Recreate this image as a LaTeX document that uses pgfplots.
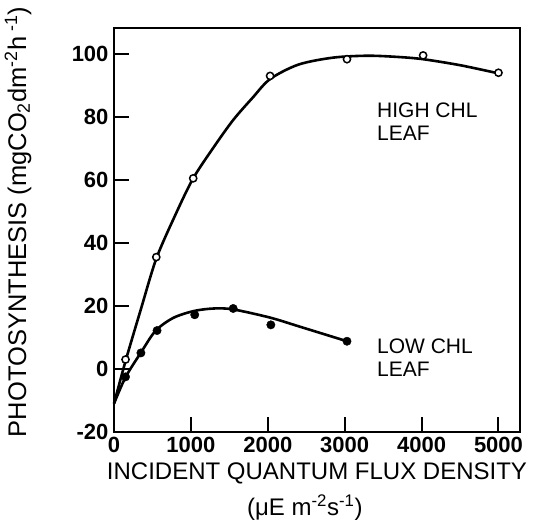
\documentclass[border=0pt]{standalone}
\usepackage{fontspec}
\setmainfont{Liberation Sans}
\usepackage{pgfplots}
\pgfplotsset{compat=1.18}
\begin{document}
\begin{tikzpicture}
\begin{axis}[
  scale only axis, width=406pt, height=404pt,
  xmin=0, xmax=5280, ymin=-20, ymax=108.2,
  clip=false,
  axis line style={line width=2pt},
  xtick={0,1000,...,5000}, ytick={-20,0,...,100},
  tick pos=left, tick align=inside, major tick length=15pt,
  tick style={line width=2pt, black},
  /pgf/number format/assume math mode=true,
  /pgf/number format/1000 sep={},
  ticklabel style={font=\fontsize{22}{22}\selectfont\bfseries},
  xticklabel style={yshift=-2pt},
  yticklabel style={xshift=-2pt},
]
\addplot[black, line width=2.6pt, smooth] coordinates {
 (0,-11) (150,2.5) (350,19) (550,35) (800,49) (1030,60.5) (1300,70.5) (1550,79) (1800,86) (2030,92) (2400,96.6) (2850,98.8) (3300,99.4) (3700,99) (4020,98.3) (4500,96.4) (5000,93.8)};
\addplot[black, line width=2.6pt, smooth] coordinates {
 (0,-11) (150,-2.6) (350,5.2) (540,12.1) (770,16.2) (1040,18.4) (1300,19.2) (1550,18.9) (2030,16.3) (2420,13.4) (3030,8.8)};
\addplot[only marks, mark=*, mark size=3.6pt, mark options={fill=white, draw=black, line width=1.5pt}] coordinates {
 (150,3) (550,35.5) (1030,60.5) (2030,93) (3030,98.3) (4020,99.5) (5000,94)};
\addplot[only marks, mark=*, mark size=4.2pt, mark options={fill=black, draw=black}] coordinates {
 (150,-2.5) (350,5.1) (560,12.2) (1050,17.2) (1550,19.2) (2040,14) (3030,8.8)};
\node[anchor=north west, align=left, inner sep=0pt, font=\fontsize{21}{23}\selectfont] at (axis cs:3420,84.5) {HIGH CHL\\LEAF};
\node[anchor=north west, align=left, inner sep=0pt, font=\fontsize{21}{23}\selectfont] at (axis cs:3420,9.5) {LOW CHL\\LEAF};
\node[font=\fontsize{24}{24}\selectfont] at (rel axis cs:0.5,0) [yshift=-41pt] {INCIDENT QUANTUM FLUX DENSITY};
\node[font=\fontsize{24}{24}\selectfont] at (rel axis cs:0.47,0) [yshift=-76pt] {(μE m\textsuperscript{-2}s\textsuperscript{-1})};
\node[xshift=-96pt, rotate=90, font=\fontsize{25.5}{25.5}\selectfont] at (rel axis cs:0,0.52) {PHOTOSYNTHESIS (mgCO\textsubscript{2}dm\textsuperscript{-2}h\textsuperscript{ -1})};
\end{axis}
\pgfresetboundingbox
\path[use as bounding box] (-114pt,-91pt) rectangle (426pt,432pt);
\end{tikzpicture}
\end{document}
